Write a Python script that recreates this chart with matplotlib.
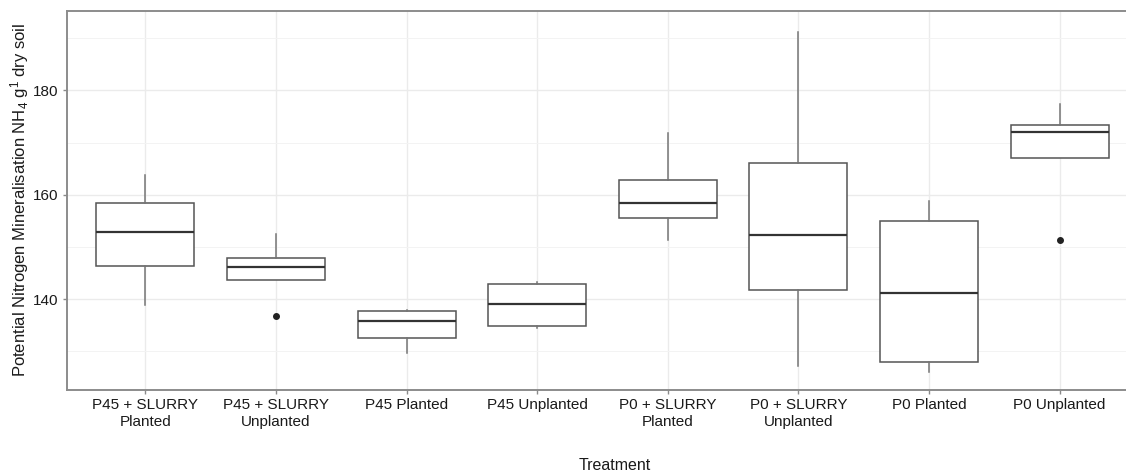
import matplotlib
matplotlib.use("Agg")
import matplotlib.pyplot as plt

treatments = ["P45 + SLURRY\nPlanted", "P45 + SLURRY\nUnplanted", "P45 Planted",
              "P45 Unplanted", "P0 + SLURRY\nPlanted", "P0 + SLURRY\nUnplanted",
              "P0 Planted", "P0 Unplanted"]
whisker_low = [138.8, 143.6, 129.6, 134.5, 151.3, 127.2, 126.0, 167.0]
q1 = [146.4, 143.6, 132.5, 134.8, 155.5, 141.7, 128.0, 167.0]
median = [152.9, 146.1, 135.8, 139.1, 158.5, 152.3, 141.1, 172.1]
q3 = [158.4, 147.8, 137.8, 142.9, 162.9, 166.1, 155.0, 173.3]
whisker_high = [163.7, 152.4, 137.9, 143.2, 171.9, 191.1, 158.9, 177.4]
outliers = [[], [136.8], [], [], [], [], [], [151.3]]

plt.rcParams["font.family"] = ["Liberation Sans", "DejaVu Sans"]
plt.rcParams["mathtext.default"] = "regular"

stats = []
for i, name in enumerate(treatments):
    stats.append({"label": name, "whislo": whisker_low[i], "q1": q1[i], "med": median[i],
                  "q3": q3[i], "whishi": whisker_high[i], "fliers": outliers[i]})

fig = plt.figure(figsize=(11.26, 4.71), dpi=100)
W, H = 1126, 471
# panel runs a little past the right edge of the figure
ax = fig.add_axes([67 / W, (H - 390) / H, (1138 - 67) / W, (390 - 11) / H])

ax.bxp(stats, positions=range(1, len(treatments) + 1), widths=0.75, showcaps=False,
       patch_artist=True,
       boxprops=dict(facecolor="white", edgecolor="#555555", linewidth=1.1),
       medianprops=dict(color="#333333", linewidth=1.6),
       whiskerprops=dict(color="#757575", linewidth=1.1),
       flierprops=dict(marker="o", markersize=4, markerfacecolor="#222222",
                       markeredgecolor="#222222"))

ax.set_xlim(0.4, len(treatments) + 0.6)
ax.set_ylim(122.6, 195.2)
ax.set_yticks([140, 160, 180])
ax.set_yticks([130, 150, 170, 190], minor=True)
ax.grid(True, which="major", color="#ebebeb", linewidth=1.0)
ax.grid(True, which="minor", axis="y", color="#f3f3f3", linewidth=0.7)
ax.set_axisbelow(True)
ax.tick_params(axis="both", which="major", length=3, width=1, color="#8a8a8a",
               labelsize=11, labelcolor="#1a1a1a", pad=3)
ax.tick_params(axis="y", which="minor", length=0)
ax.set_xticklabels(treatments)
for s in ax.spines.values():
    s.set_color("#8c8c8c")
    s.set_linewidth(1.4)

fig.text(615 / W, 1 - 465 / H, "Treatment", ha="center", va="center", fontsize=11.5,
         color="#1a1a1a")
fig.text(20 / W, 1 - 200 / H, "Potential Nitrogen Mineralisation NH$_4$ g$^1$ dry soil",
         rotation=90, ha="center", va="center", fontsize=12, color="#1a1a1a")

fig.savefig("out.png", dpi=100)
